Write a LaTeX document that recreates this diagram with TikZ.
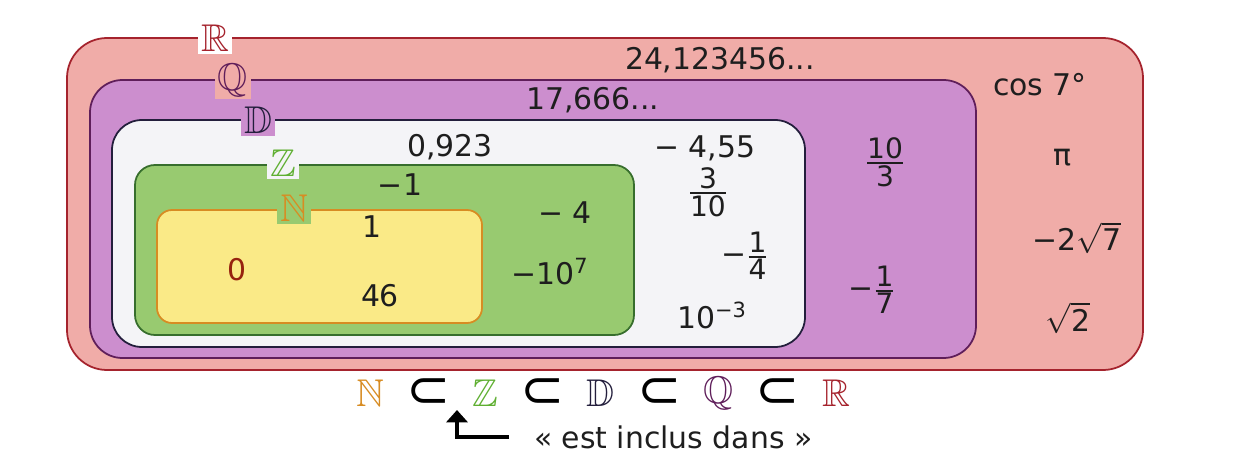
\documentclass[tikz,border=0pt]{standalone}
\usepackage{fontspec}
\setmainfont{DejaVu Sans}
\usepackage{amssymb}
\usetikzlibrary{arrows.meta,positioning}
\definecolor{realfill}{RGB}{240,172,168}
\definecolor{realline}{RGB}{165,35,45}
\definecolor{ratfill}{RGB}{204,142,206}
\definecolor{ratline}{RGB}{95,30,90}
\definecolor{decfill}{RGB}{244,244,247}
\definecolor{decline}{RGB}{35,30,60}
\definecolor{intfill}{RGB}{152,202,112}
\definecolor{intline}{RGB}{55,110,45}
\definecolor{intname}{RGB}{95,175,50}
\definecolor{natfill}{RGB}{250,234,135}
\definecolor{natline}{RGB}{215,140,35}
\definecolor{numgray}{RGB}{30,30,30}
\definecolor{zerored}{RGB}{150,35,15}
\newcommand{\fracsize}{\fontsize{16}{16}\selectfont}
\newcommand{\fr}[2]{${\hbox{\fracsize#1}\above1pt\hbox{\fracsize#2}}$}

\begin{document}
\begin{tikzpicture}[x=0.02cm, y=-0.02cm,
    every node/.style={font=\fontsize{17}{20}\selectfont, text=numgray, inner sep=1pt},
    setbox/.style={line width=1pt, rounded corners=#1},
    setname/.style={font=\fontsize{22}{24}\selectfont, inner sep=1.5pt},
    chain/.style={font=\fontsize{22}{24}\selectfont, right=0.36cm of #1},
    subset/.style={font=\fontsize{30}{30}\selectfont, text=black},
    arrow/.style={-{Triangle[length=7pt,width=12pt]}, line width=2pt, black}
  ]
  \useasboundingbox (0,0) rectangle (1255,460);
  \draw[setbox=0.8cm, draw=realline, fill=realfill] (67,38) rectangle (1143,370);
  \draw[setbox=0.65cm, draw=ratline, fill=ratfill] (90,80) rectangle (976,358);
  \draw[setbox=0.6cm, draw=decline, fill=decfill] (112,120) rectangle (805,347);
  \draw[setbox=0.4cm, draw=intline, fill=intfill] (135,165) rectangle (634,335);
  \draw[setbox=0.3cm, draw=natline, fill=natfill] (157,210) rectangle (482,323);

  \node[setname, fill=white, text=realline] (nameR) at (215,38) {$\mathbb{R}$};
  \node[setname, fill=realfill, text=ratline] (nameQ) at (233,80) {$\mathbb{Q}$};
  \node[setname, fill=ratfill, text=decline] (nameD) at (258,120) {$\mathbb{D}$};
  \node[setname, fill=decfill, text=intname] (nameZ) at (283,163) {$\mathbb{Z}$};
  \node[setname, fill=intfill, text=natline] (nameN) at (294,208) {$\mathbb{N}$};

  \node (r1) at (720,60) {24,123456...};
  \node (r2) at (1040,85) {cos 7°};
  \node (r3) at (1062,158) {π};
  \node (r4) at (1077,238) {−2$\sqrt{\hbox{7}}$};
  \node (r5) at (1068,318) {$\sqrt{\hbox{2}}$};
  \node (q1) at (593,100) {17,666...};
  \node (q2) at (885,162) {\fr{10}{3}};
  \node (q3) at (872,290) {−\fr{1}{7}};
  \node (d1) at (450,147) {0,923};
  \node (d2) at (705,148) {− 4,55};
  \node (d3) at (708,192) {\fr{3}{10}};
  \node (d4) at (745,256) {−\fr{1}{4}};
  \node (d5) at (712,315) {10\textsuperscript{−3}};
  \node (z1) at (400,185) {−1};
  \node (z2) at (565,213) {− 4};
  \node (z3) at (550,272) {−10\textsuperscript{7}};
  \node (n1) at (372,227) {1};
  \node[text=zerored] (n2) at (237,270) {0};
  \node (n3) at (380,296) {46};

  \node[text=natline, font=\fontsize{22}{24}\selectfont] (sN) at (370,393) {$\mathbb{N}$};
  \node[chain=sN, subset] (s1) {⊂};
  \node[chain=s1, text=intname] (sZ) {$\mathbb{Z}$};
  \node[chain=sZ, subset] (s2) {⊂};
  \node[chain=s2, text=decline] (sD) {$\mathbb{D}$};
  \node[chain=sD, subset] (s3) {⊂};
  \node[chain=s3, text=ratline] (sQ) {$\mathbb{Q}$};
  \node[chain=sQ, subset] (s4) {⊂};
  \node[chain=s4, text=realline] (sR) {$\mathbb{R}$};

  \node[anchor=west] (incl) at (532,437) {« est inclus dans »};
  \coordinate (tip) at (457,410);
  \draw[arrow, shorten <=0.46cm] (incl.west) -| (tip);
\end{tikzpicture}
\end{document}
